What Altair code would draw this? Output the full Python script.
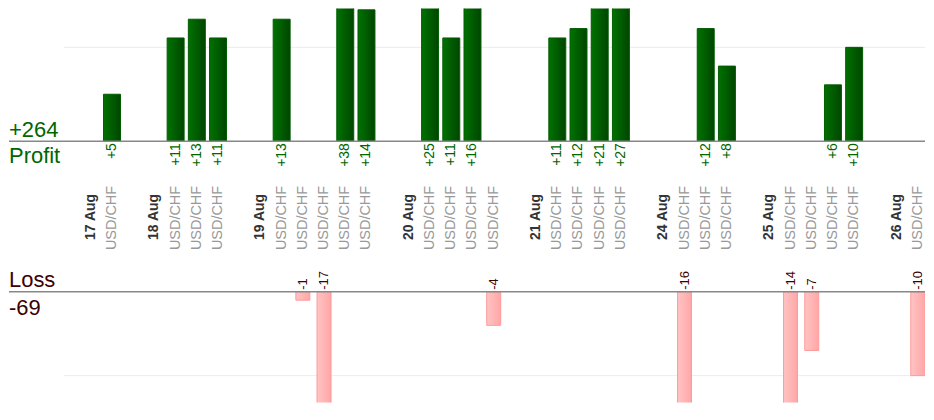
import altair as alt
import pandas as pd

# ---- data ----
days = ["17 Aug", "18 Aug", "19 Aug", "20 Aug", "21 Aug", "24 Aug", "25 Aug", "26 Aug"]
day_results = [
    [5],
    [11, 13, 11],
    [13, -1, -17, 38, 14],
    [25, 11, 16, -4],
    [11, 12, 21, 27],
    [-16, 12, 8],
    [-14, -7, 6, 10],
    [-10],
]
pair = "USD/CHF"

# ---- build tables (slot = sequential position in the strip) ----
trade_rows, day_rows = [], []
slot = 0
for d, results in zip(days, day_results):
    day_rows.append({"slot": slot, "day": d})
    slot += 1
    for v in results:
        trade_rows.append({
            "slot": slot, "value": v, "pair": pair,
            "label": f"+{v}" if v > 0 else f"{v}",
        })
        slot += 1
    slot += 1  # blank separator

trades = pd.DataFrame(trade_rows)
day_df = pd.DataFrame(day_rows)
profits = trades[trades.value > 0]
losses = trades[trades.value < 0]
total_profit = int(profits.value.sum())
total_loss = int(losses.value.sum())

W = 918
STEP = 21.25
x0 = -82.0 / STEP
xscale = alt.Scale(domain=[x0, x0 + W / STEP], nice=False, zero=False, padding=0)
X = alt.X("slot:Q", scale=xscale, axis=None)

FONT = "Liberation Sans"
GREEN = "#006600"
MAROON = "#3d0000"

green_grad = alt.Gradient(
    gradient="linear", x1=0, x2=1, y1=0, y2=0,
    stops=[alt.GradientStop(offset=0, color="#007200"),
           alt.GradientStop(offset=1, color="#004600")],
)
pink_grad = alt.Gradient(
    gradient="linear", x1=0, x2=1, y1=0, y2=0,
    stops=[alt.GradientStop(offset=0, color="#ffc4c4"),
           alt.GradientStop(offset=1, color="#ffa6a6")],
)

one = pd.DataFrame({"k": [0]})

# ---- top: profit ----
H_TOP = 133
PX_P = 9.4
yp = alt.Scale(domain=[0, H_TOP / PX_P], nice=False, zero=False, padding=0)

top_grid = alt.Chart(one).mark_rule(color="#ececec", strokeWidth=1).encode(
    y=alt.Y(datum=10, type="quantitative", scale=yp, axis=None),
    x=alt.value(55), x2=alt.value(W))
top_bars = alt.Chart(profits).mark_bar(
    size=17, clip=True, fill=green_grad, stroke="#005c00", strokeWidth=1
).encode(x=X, y=alt.Y("value:Q", scale=yp, axis=None), y2=alt.Y2(datum=0))
top_base = alt.Chart(one).mark_rule(color="#888888", strokeWidth=1.5).encode(
    y=alt.Y(datum=0, type="quantitative", scale=yp, axis=None),
    x=alt.value(0), x2=alt.value(W))
top_total = alt.Chart(pd.DataFrame({"t": [f"+{total_profit}"]})).mark_text(
    align="left", baseline="alphabetic", fontSize=22, font=FONT, color=GREEN
).encode(text="t:N", x=alt.value(0), y=alt.value(H_TOP - 4))

top = alt.layer(top_grid, top_bars, top_base, top_total).properties(width=W, height=H_TOP)

# ---- middle: labels ----
H_MID = 151
mid_profit_word = alt.Chart(pd.DataFrame({"t": ["Profit"]})).mark_text(
    align="left", baseline="alphabetic", fontSize=22, font=FONT, color=GREEN
).encode(text="t:N", x=alt.value(0), y=alt.value(22))
mid_profit_vals = alt.Chart(profits).mark_text(
    angle=270, align="right", baseline="middle", fontSize=14, font=FONT, color=GREEN
).encode(x=X, y=alt.value(2), text="label:N")
mid_pairs = alt.Chart(trades).mark_text(
    angle=270, align="center", baseline="middle", fontSize=14.5, font=FONT, color="#999999"
).encode(x=X, y=alt.value(77), text="pair:N")
mid_days = alt.Chart(day_df).mark_text(
    angle=270, align="left", baseline="middle", fontSize=14, font=FONT,
    fontWeight="bold", color="#333333"
).encode(x=X, y=alt.value(99), text="day:N")
mid_loss_word = alt.Chart(pd.DataFrame({"t": ["Loss"]})).mark_text(
    align="left", baseline="alphabetic", fontSize=22, font=FONT, color=MAROON
).encode(text="t:N", x=alt.value(0), y=alt.value(146))
mid_loss_vals = alt.Chart(losses).mark_text(
    angle=270, align="left", baseline="middle", fontSize=13, font=FONT, color=MAROON
).encode(x=X, y=alt.value(149), text="label:N")

mid = alt.layer(mid_profit_word, mid_profit_vals, mid_pairs, mid_days,
                mid_loss_word, mid_loss_vals).properties(width=W, height=H_MID)

# ---- bottom: loss ----
H_BOT = 111
PX_L = 8.4
yl = alt.Scale(domain=[-H_BOT / PX_L, 0], nice=False, zero=False, padding=0)

bot_grid = alt.Chart(one).mark_rule(color="#ececec", strokeWidth=1).encode(
    y=alt.Y(datum=-10, type="quantitative", scale=yl, axis=None),
    x=alt.value(55), x2=alt.value(W))
bot_bars = alt.Chart(losses).mark_bar(
    size=14, clip=True, fill=pink_grad, stroke="#ff9a9a", strokeWidth=1
).encode(x=X, y=alt.Y("value:Q", scale=yl, axis=None), y2=alt.Y2(datum=0))
bot_base = alt.Chart(one).mark_rule(color="#888888", strokeWidth=1.5).encode(
    y=alt.Y(datum=0, type="quantitative", scale=yl, axis=None),
    x=alt.value(0), x2=alt.value(W))
bot_total = alt.Chart(pd.DataFrame({"t": [f"{total_loss}"]})).mark_text(
    align="left", baseline="alphabetic", fontSize=22, font=FONT, color=MAROON
).encode(text="t:N", x=alt.value(0), y=alt.value(23))

bot = alt.layer(bot_grid, bot_bars, bot_base, bot_total).properties(width=W, height=H_BOT)

chart = alt.vconcat(top, mid, bot, spacing=0, bounds="flush").properties(
    padding=0
).configure_view(stroke=None).configure_concat(spacing=0)

chart.save("out.html", embed_options={"renderer": "svg", "actions": False})
